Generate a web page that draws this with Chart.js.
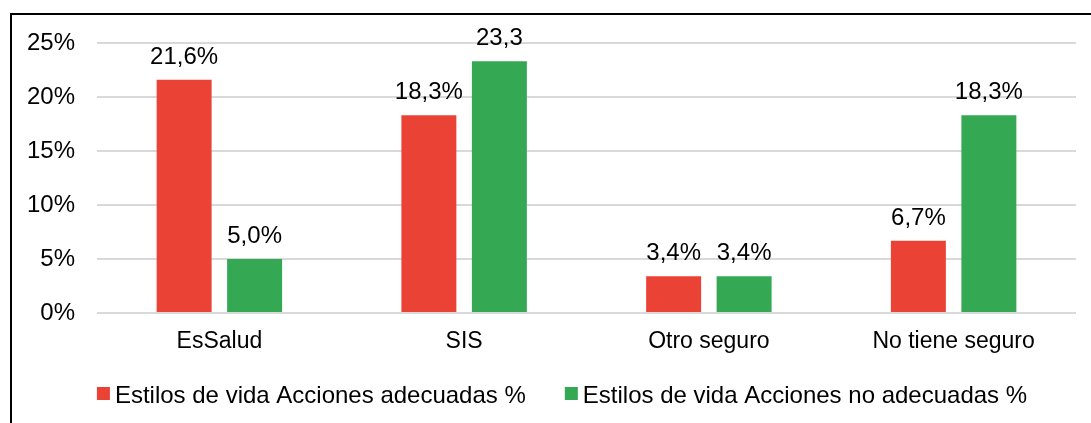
<!DOCTYPE html>
<html>
<head>
<meta charset="utf-8">
<script src="https://cdn.jsdelivr.net/npm/chart.js@4"></script>
<style>
html,body{margin:0;padding:0;background:#fff;}
#wrap{position:absolute;left:0;top:0;width:1091px;height:423px;}
</style>
</head>
<body>
<div id="wrap"><canvas id="c" width="1091" height="423"></canvas></div>
<script>
const categories = ["EsSalud", "SIS", "Otro seguro", "No tiene seguro"];
const seriesNames = ["Estilos de vida Acciones adecuadas %", "Estilos de vida Acciones no adecuadas %"];
const adecuadas = [21.6, 18.3, 3.4, 6.7];
const noAdecuadas = [5.0, 23.3, 3.4, 18.3];
const adecuadasLabels = ["21,6%", "18,3%", "3,4%", "6,7%"];
const noAdecuadasLabels = ["5,0%", "23,3", "3,4%", "18,3%"];
const yTicks = [0, 5, 10, 15, 20, 25];

const FONT = "'Liberation Sans', Arial, sans-serif";
const FS = 24;
const FSX = 23;

const frame = {
  id: 'frame',
  beforeDraw(chart) {
    const ctx = chart.ctx;
    ctx.save();
    ctx.fillStyle = '#fff';
    ctx.fillRect(0, 0, chart.width, chart.height);
    ctx.fillStyle = '#000';
    ctx.fillRect(10, 13, 2, chart.height - 13);
    ctx.fillRect(10, 13, chart.width - 10, 2);
    ctx.restore();
  }
};

const valueLabels = {
  id: 'valueLabels',
  afterDatasetsDraw(chart) {
    const ctx = chart.ctx;
    ctx.save();
    ctx.font = FS + 'px ' + FONT;
    ctx.fillStyle = '#000';
    ctx.textAlign = 'center';
    ctx.textBaseline = 'alphabetic';
    chart.data.datasets.forEach((ds, di) => {
      const meta = chart.getDatasetMeta(di);
      meta.data.forEach((bar, i) => {
        ctx.fillText(ds.valueText[i], bar.x, bar.y - 16);
      });
    });
    ctx.restore();
  }
};

const customLegend = {
  id: 'customLegend',
  afterDraw(chart) {
    const ctx = chart.ctx;
    ctx.save();
    ctx.font = FS + 'px ' + FONT;
    ctx.textBaseline = 'alphabetic';
    ctx.textAlign = 'left';
    const box = 13, gapText = 5, gapItem = 39;
    const ds = chart.data.datasets;
    const widths = ds.map(d => ctx.measureText(d.label).width);
    let total = 0;
    widths.forEach((w, i) => { total += box + gapText + w + (i < widths.length - 1 ? gapItem : 0); });
    let x = 562 - total / 2;
    const baseline = 403;
    ds.forEach((d, i) => {
      ctx.fillStyle = d.backgroundColor;
      ctx.fillRect(x, 387, box, box);
      ctx.fillStyle = '#000';
      ctx.fillText(d.label, x + box + gapText, baseline);
      x += box + gapText + widths[i] + gapItem;
    });
    ctx.restore();
  }
};

new Chart(document.getElementById('c'), {
  type: 'bar',
  data: {
    labels: categories,
    datasets: [
      { label: seriesNames[0], data: adecuadas, valueText: adecuadasLabels,
        backgroundColor: '#EA4335', barPercentage: 0.78, categoryPercentage: 0.576 },
      { label: seriesNames[1], data: noAdecuadas, valueText: noAdecuadasLabels,
        backgroundColor: '#34A853', barPercentage: 0.78, categoryPercentage: 0.576 }
    ]
  },
  options: {
    responsive: false,
    animation: false,
    devicePixelRatio: 1,
    layout: { padding: { top: 43, right: 15, bottom: 0, left: 0 } },
    plugins: {
      tooltip: { enabled: false },
      legend: { display: false }
    },
    scales: {
      x: {
        grid: { display: false, drawTicks: false },
        border: { display: false },
        ticks: { color: '#000', padding: 15, font: { family: FONT, size: FSX } },
        afterFit(s) { s.height = 110; }
      },
      y: {
        min: 0, max: 25,
        afterBuildTicks(s) { s.ticks = yTicks.map(v => ({ value: v })); },
        grid: { color: '#d9d9d9', lineWidth: 2, drawTicks: false },
        border: { display: false },
        ticks: {
          color: '#000', padding: 22,
          font: { family: FONT, size: FS },
          callback: v => v + '%'
        },
        afterFit(s) { s.width = 97; }
      }
    }
  },
  plugins: [frame, valueLabels, customLegend]
});
</script>
</body>
</html>
